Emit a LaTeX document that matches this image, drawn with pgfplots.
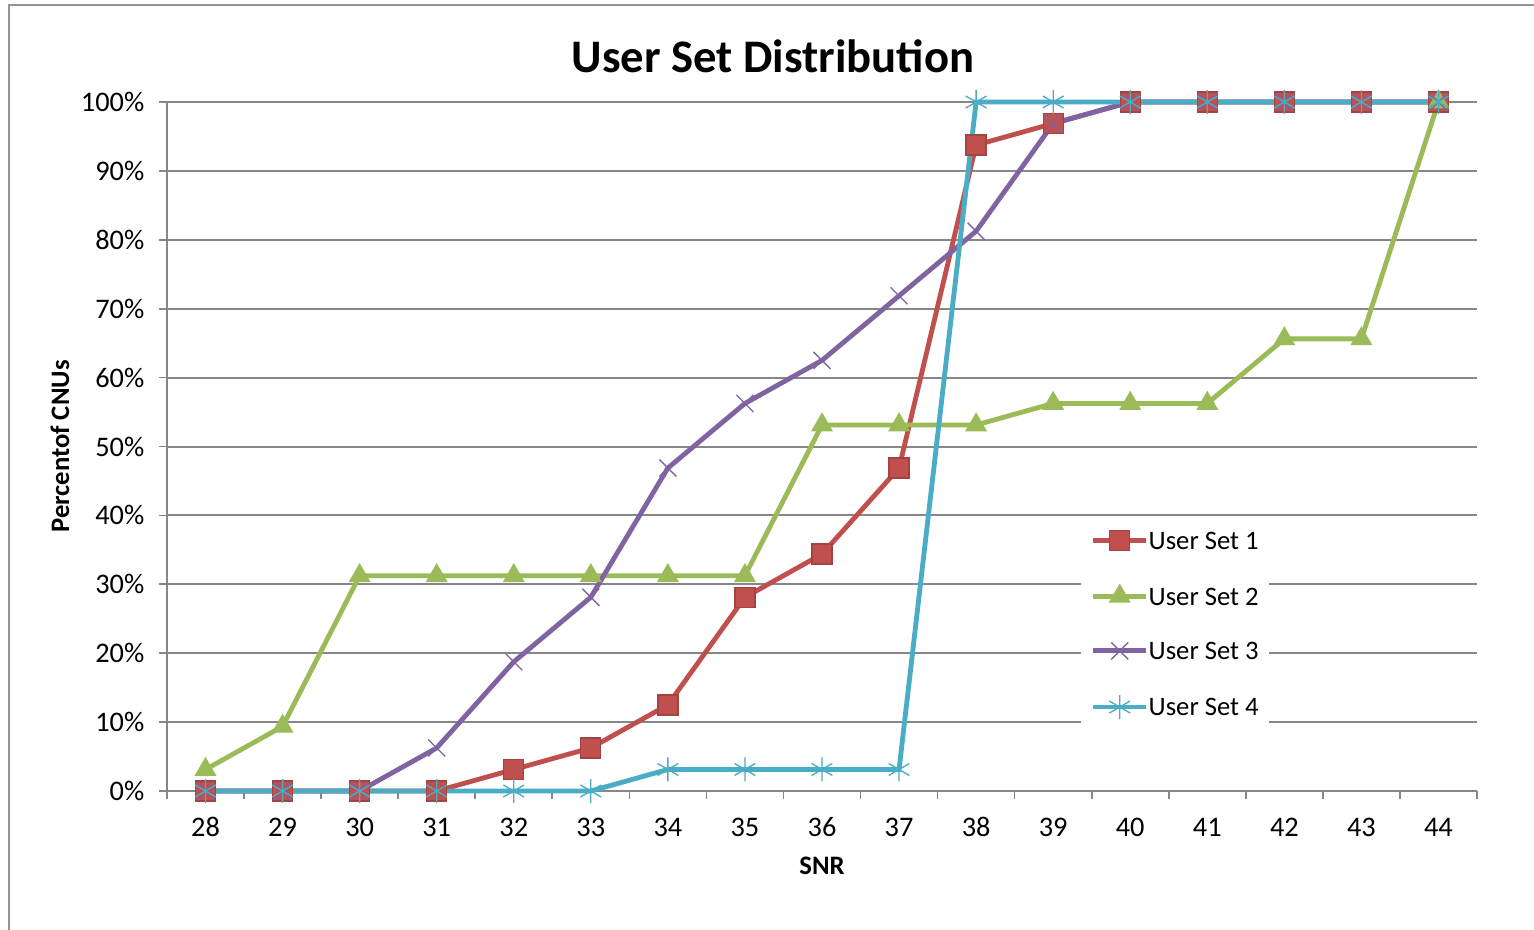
\documentclass[border=0pt]{standalone}
\usepackage{pgfplots}
\pgfplotsset{compat=1.18}
\usepackage{fontspec}
\setmainfont{Carlito}
\definecolor{xred}{HTML}{C0504D}
\definecolor{xgreen}{HTML}{9BBB59}
\definecolor{xpurple}{HTML}{8064A2}
\definecolor{xcyan}{HTML}{4BACC6}
\definecolor{xgrid}{HTML}{878787}
\begin{document}
\begin{tikzpicture}
\useasboundingbox (-50.1pt,-41.4pt) rectangle (410.1pt,237.3pt);
\fill[white] (-50.1pt,-41.4pt) rectangle (410.1pt,237.3pt);
\draw[xgrid!90,line width=0.6pt] (-47.4pt,-42pt) -- (-47.4pt,235.8pt) -- (411pt,235.8pt);
\begin{axis}[
  at={(0,0)}, anchor=south west,
  scale only axis, width=393pt, height=206.7pt,
  xmin=27.5, xmax=44.5, ymin=0, ymax=100,
  clip=false,
  axis x line*=bottom, axis y line*=left,
  axis line style={-, xgrid, line width=0.6pt},
  xtick={28,...,44},
  minor xtick={27.5,28.5,...,44.5},
  major x tick style={draw=none},
  ytick={0,10,...,100},
  tick align=outside,
  major tick length=2.4pt, minor tick length=2.4pt,
  tick style={xgrid, line width=0.5pt},
  ymajorgrids, grid style={xgrid, line width=0.6pt},
  /pgf/number format/assume math mode=true,
  yticklabel={\pgfmathprintnumber{\tick}\%},
  ticklabel style={font=\fontsize{8.5}{10}\selectfont},
  xticklabel style={anchor=center, inner sep=0pt, yshift=-8.4pt},
  yticklabel style={anchor=east, inner sep=0pt, xshift=-4.2pt},
  xlabel={SNR}, ylabel={Percentof CNUs},
  label style={font=\bfseries\fontsize{8}{10}\selectfont},
  xlabel style={at={(axis description cs:0.5,0)}, anchor=center, yshift=-22.5pt},
  ylabel style={at={(axis description cs:0,0.5)}, anchor=center, rotate=0, yshift=32.1pt},
  title={User Set Distribution},
  title style={font=\bfseries\fontsize{14}{16}\selectfont, at={(axis description cs:0.4626,1)}, anchor=center, yshift=7.8pt},
  legend style={at={(axis description cs:0.697,0.394)}, anchor=north west,
    draw=none, fill=white, font=\fontsize{8}{10}\selectfont,
    inner xsep=3pt, inner ysep=3pt, row sep=10.1pt,
    nodes={inner sep=0pt, text height=5.8pt, text depth=0.5pt}},
  legend cell align=left,
  legend image code/.code={\draw[mark repeat=2,mark phase=2] plot coordinates {(0cm,0cm)(0.28cm,0cm)(0.56cm,0cm)};},
]
\addplot[xred, line width=1.45pt, mark=square*, mark size=3pt, mark options={fill=xred, draw=xred!85!black, line width=0.4pt}] coordinates {
(28,0)(29,0)(30,0)(31,0)(32,3.125)(33,6.25)(34,12.5)(35,28.125)(36,34.375)(37,46.875)(38,93.75)(39,96.875)(40,100)(41,100)(42,100)(43,100)(44,100)};
\addlegendentry{User Set 1}
\addplot[xgreen, line width=1.45pt, mark=triangle*, mark size=3.4pt, mark options={fill=xgreen, draw=xgreen, line width=0.4pt}] coordinates {
(28,3.125)(29,9.375)(30,31.25)(31,31.25)(32,31.25)(33,31.25)(34,31.25)(35,31.25)(36,53.125)(37,53.125)(38,53.125)(39,56.25)(40,56.25)(41,56.25)(42,65.625)(43,65.625)(44,100)};
\addlegendentry{User Set 2}
\addplot[xpurple, line width=1.45pt, mark=x, mark size=3.6pt, mark options={draw=xpurple, line width=0.4pt}] coordinates {
(28,0)(29,0)(30,0)(31,6.25)(32,18.75)(33,28.125)(34,46.875)(35,56.25)(36,62.5)(37,71.875)(38,81.25)(39,96.875)(40,100)(41,100)(42,100)(43,100)(44,100)};
\addlegendentry{User Set 3}
\addplot[xcyan, line width=1.45pt, mark=asterisk, mark size=3.6pt, mark options={draw=xcyan, line width=0.4pt}] coordinates {
(28,0)(29,0)(30,0)(31,0)(32,0)(33,0)(34,3.125)(35,3.125)(36,3.125)(37,3.125)(38,100)(39,100)(40,100)(41,100)(42,100)(43,100)(44,100)};
\addlegendentry{User Set 4}
\end{axis}
\end{tikzpicture}
\end{document}
